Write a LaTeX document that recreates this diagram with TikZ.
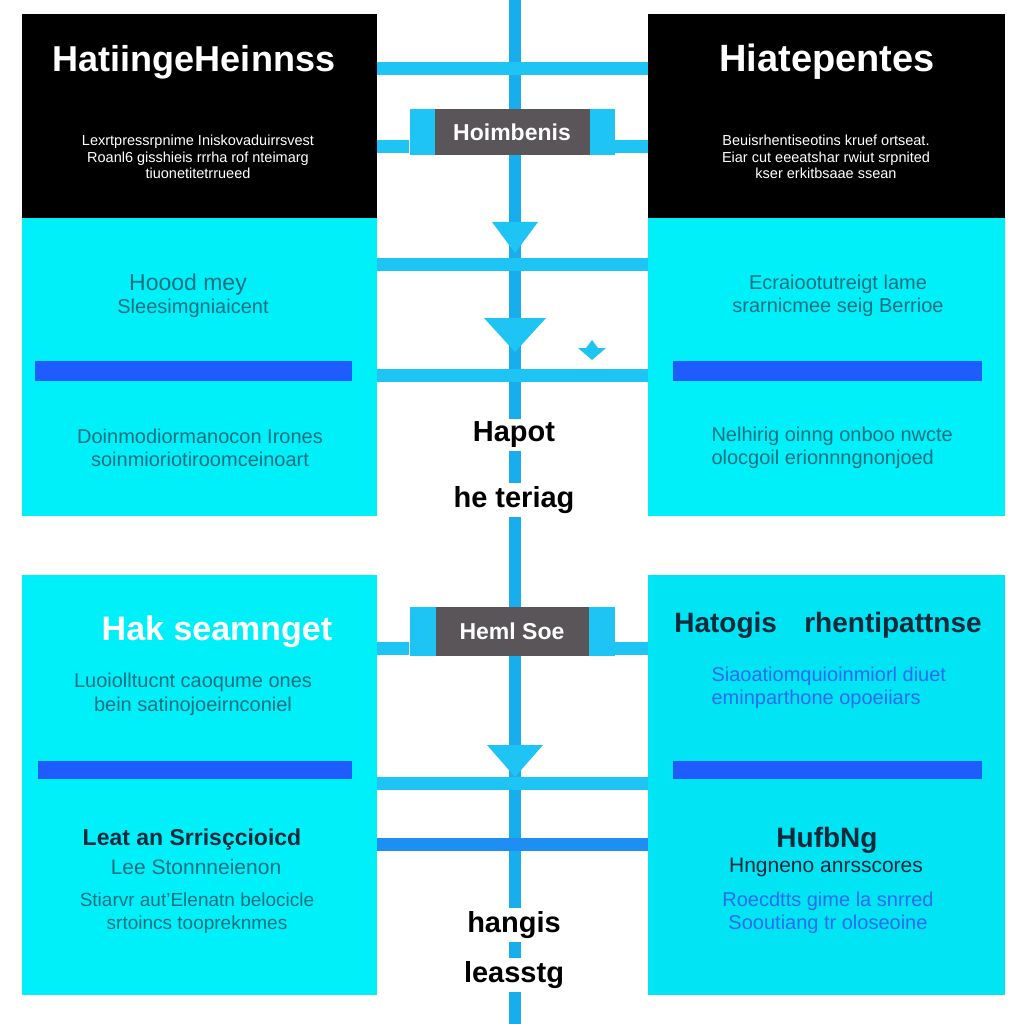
\documentclass[tikz,border=0pt]{standalone}
\usepackage{fontspec}
\setmainfont{Liberation Sans}
\usetikzlibrary{positioning,calc}
\definecolor{panelcyan}{HTML}{00F0FA}
\definecolor{panelcyanb}{HTML}{00E4F4}
\definecolor{barblue}{HTML}{1E5CFF}
\definecolor{linkblue}{HTML}{1EC4F4}
\definecolor{spineblue}{HTML}{18AEEE}
\definecolor{deeplink}{HTML}{1E8EF2}
\definecolor{taggray}{HTML}{5A5558}
\definecolor{tealtext}{HTML}{127080}
\definecolor{navytext}{HTML}{0D2A3C}
\definecolor{softblue}{HTML}{2C6CF0}

\begin{document}
\begin{tikzpicture}[x=1pt, y=-1pt,
  sz/.style 2 args={minimum width=#1pt, minimum height=#2pt},
  panel/.style={rectangle, inner sep=0pt, outer sep=0pt, anchor=north west},
  head/.style={panel, fill=black},
  body/.style={panel, fill=panelcyan},
  bar/.style={panel, fill=barblue},
  link/.style={draw=linkblue, line width=13pt},
  spine/.style={draw=spineblue, line width=12pt},
  brk/.style={rectangle, inner sep=0pt, fill=linkblue},
  tag/.style={rectangle, inner sep=0pt, fill=taggray, text=white, font=\bfseries\fontsize{23}{26}\selectfont},
  ttl/.style={text=white, font=\bfseries\fontsize{36}{40}\selectfont},
  note/.style={text=white, align=center, font=\fontsize{14.5}{16.5}\selectfont},
  txt/.style={text=tealtext, align=center, font=\fontsize{20}{23}\selectfont},
  mid/.style={fill=white, text=black, inner sep=3pt, font=\bfseries\fontsize{29}{30}\selectfont}]
\fill[white] (0,0) rectangle (1024,1024);
\useasboundingbox (0,0) rectangle (1024,1024);
% central spine
\coordinate (top) at (515,0);
\coordinate (bot) at (515,1024);
\draw[spine] (top) -- (bot);
% panels
\node[head, sz={355}{204}] (tlhead) at (22,14) {};
\node[body, sz={355}{298}] (tlbody) at (22,218) {};
\node[head, sz={357}{204}] (trhead) at (648,14) {};
\node[body, sz={357}{298}] (trbody) at (648,218) {};
\node[body, sz={355}{420}] (blbody) at (22,575) {};
\node[body, fill=panelcyanb, sz={357}{420}] (brbody) at (648,575) {};
\node[bar, sz={317}{20}] (tlbar) at (35,361) {};
\node[bar, sz={309}{20}] (trbar) at (673,361) {};
\node[bar, sz={314}{18}] (blbar) at (38,761) {};
\node[bar, sz={309}{18}] (brbar) at (673,761) {};
% links between the columns
\coordinate (l1) at (515,69);
\coordinate (l2) at (515,264);
\coordinate (l3) at (515,375);
\coordinate (l4) at (515,783);
\coordinate (l5) at (515,844);
\draw[link] (tlhead.east |- l1) -- (trhead.west |- l1);
\draw[link] (tlbody.east |- l2) -- (trbody.west |- l2);
\draw[link] (tlbody.east |- l3) -- (trbody.west |- l3);
\draw[link] (blbody.east |- l4) -- (brbody.west |- l4);
\draw[link, draw=deeplink] (blbody.east |- l5) -- (brbody.west |- l5);
% arrow heads on the spine
\fill[linkblue] (492,222) -- (538,222) -- (515,253) -- cycle;
\fill[linkblue] (484,318) -- (546,318) -- (515,352) -- cycle;
\fill[linkblue] (487,745) -- (543,745) -- (515,777) -- cycle;
\fill[linkblue] (578,348) -- (586,348) -- (592,340) -- (598,348) -- (606,348) -- (592,360) -- cycle;
% tags
\node[brk, sz={205}{46}] (tag1b) at (512,132) {};
\node[tag, sz={155}{46}] (tag1) at (512,132) {Hoimbenis};
\coordinate (s1) at (515,147);
\draw[link] (tlhead.east |- s1) -- (tag1b.west |- s1);
\draw[link] (tag1b.east |- s1) -- (trhead.west |- s1);
\node[brk, sz={205}{49}] (tag2b) at (512,631) {};
\node[tag, sz={153}{49}] (tag2) at (512,631) {Heml Soe};
\coordinate (s2) at (515,648);
\draw[link] (blbody.east |- s2) -- (tag2b.west |- s2);
\draw[link] (tag2b.east |- s2) -- (brbody.west |- s2);
% top left
\node[ttl] (tlttl) at (194,62) {HatiingeHeinnss};
\node[note] (tlnote) at (198,157) {Lexrtpressrpnime Iniskovaduirrsvest\\Roanl6 gisshieis rrrha rof nteimarg\\tiuonetitetrrueed};
\node[txt, font=\fontsize{23}{23}\selectfont] (tltxt1) at (188,285) {Hoood mey};
\node[txt, font=\fontsize{20}{23}\selectfont] (tltxt1b) at (193,308) {Sleesimgniaicent};
\node[txt] (tltxt2) at (200,448) {Doinmodiormanocon Irones\\soinmioriotiroomceinoart};
% top right
\node[ttl, font=\bfseries\fontsize{38}{40}\selectfont] (trttl) at (827,62) {Hiatepentes};
\node[note] (trnote) at (826,157) {Beuisrhentiseotins kruef ortseat.\\Eiar cut eeeatshar rwiut srpnited\\kser erkitbsaae ssean};
\node[txt] (trtxt1) at (838,296) {Ecraiootutreigt lame\\srarnicmee seig Berrioe};
\node[txt, align=left, anchor=west] (trtxt2) at (708,448) {Nelhirig oinng onboo nwcte\\olocgoil erionnngnonjoed};
% bottom left
\node[ttl, font=\bfseries\fontsize{34}{36}\selectfont] (blttl) at (217,632) {Hak seamnget};
\node[txt, font=\fontsize{20}{24}\selectfont] (bltxt1) at (193,694) {Luoiolltucnt caoqume ones\\bein satinojoeirnconiel};
\node[txt, text=navytext, font=\bfseries\fontsize{23}{24}\selectfont] (bltxt2) at (192,840) {Leat an Srrisçcioicd};
\node[txt, font=\fontsize{21}{22}\selectfont] (bltxt3) at (196,867) {Lee Stonnneienon};
\node[txt, font=\fontsize{19}{23}\selectfont] (bltxt4) at (197,913) {Stiarvr aut'Elenatn belocicle\\srtoincs toopreknmes};
% bottom right
\node[txt, text=navytext, font=\bfseries\fontsize{28}{30}\selectfont] (brttl) at (828,625) {Hatogis\hspace{0.7em} rhentipattnse};
\node[txt, text=softblue, align=left, anchor=west] (brtxt1) at (708,688) {Siaoatiomquioinmiorl diuet\\eminparthone opoeiiars};
\node[txt, text=navytext, font=\bfseries\fontsize{28}{30}\selectfont] (brtxt2) at (827,840) {HufbNg};
\node[txt, text=navytext, font=\fontsize{21}{22}\selectfont] (brtxt3) at (826,867) {Hngneno anrsscores};
\node[txt, text=softblue] (brtxt4) at (828,913) {Roecdtts gime la snrred\\Sooutiang tr oloseoine};
% labels on the spine
\node[mid] (hapot) at (514,435) {Hapot};
\node[mid] (heteriag) at (514,500) {he teriag};
\node[mid] (hangis) at (514,925) {hangis};
\node[mid] (leasstg) at (514,975) {leasstg};
\end{tikzpicture}
\end{document}
